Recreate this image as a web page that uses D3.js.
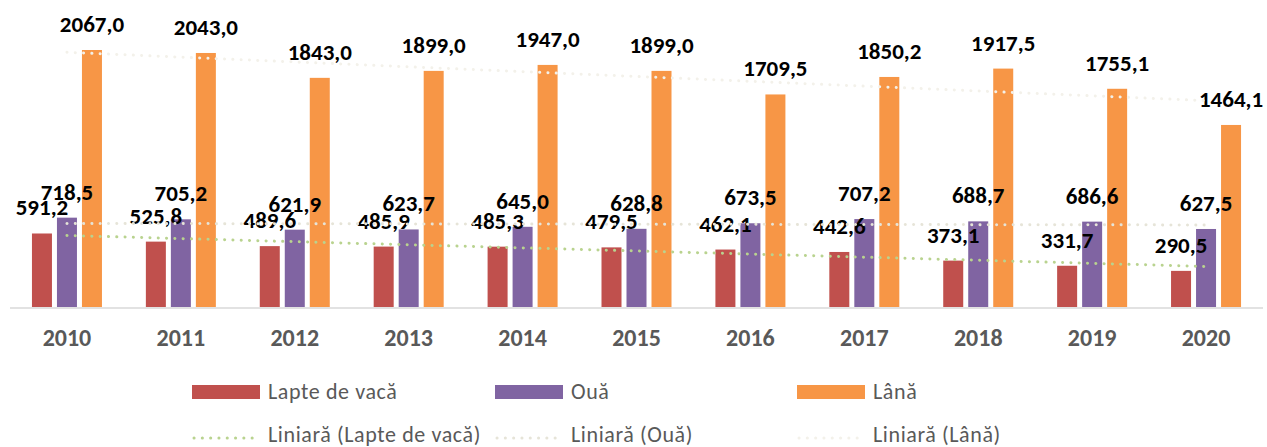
<!DOCTYPE html>
<html>
<head>
<meta charset="utf-8">
<script src="https://cdn.jsdelivr.net/npm/d3@7"></script>
<style>
  body { margin: 0; background: #fff; }
  text { font-family: Carlito, Lato, "Liberation Sans", sans-serif; }
</style>
</head>
<body>
<div id="chart"></div>
<script>
const years = ["2010", "2011", "2012", "2013", "2014", "2015", "2016", "2017", "2018", "2019", "2020"];
const lapte = [591.2, 525.8, 489.6, 485.9, 485.3, 479.5, 462.1, 442.6, 373.1, 331.7, 290.5];
const oua = [718.5, 705.2, 621.9, 623.7, 645.0, 628.8, 673.5, 707.2, 688.7, 686.6, 627.5];
const lana = [2067.0, 2043.0, 1843.0, 1899.0, 1947.0, 1899.0, 1709.5, 1850.2, 1917.5, 1755.1, 1464.1];

const seriesNames = ["Lapte de vacă", "Ouă", "Lână"];
const seriesValues = [lapte, oua, lana];
const barColors = ["#C0504D", "#8064A2", "#F79646"];
const trendColors = ["#B9D38F", "#E6E4D8", "#F3F1EA"];

const width = 1267, height = 447;
const baseY = 307;

const svg = d3.select("#chart").append("svg")
    .attr("width", width)
    .attr("height", height);

// scales
const x0 = d3.scaleBand().domain(years).range([10, 1263]);
const x1 = d3.scaleBand().domain(seriesNames).range([-35, 35]).paddingInner(0.2);
const y = d3.scaleLinear().domain([0, 2067]).range([baseY, 50]);

const fmt = d3.formatLocale({ decimal: ",", thousands: "", grouping: [3], currency: ["", ""] }).format(".1f");

// linear trend (least squares) for each series
function trend(vals) {
  const n = vals.length;
  const mx = (n - 1) / 2;
  const my = d3.mean(vals);
  let num = 0, den = 0;
  vals.forEach((v, i) => { num += (i - mx) * (v - my); den += (i - mx) * (i - mx); });
  const b = num / den;
  return vals.map((v, i) => my + b * (i - mx));
}

const cx = d => x0(d) + x0.bandwidth() / 2;

// bars
seriesNames.forEach((name, s) => {
  svg.append("g").selectAll("rect")
    .data(seriesValues[s])
    .enter().append("rect")
    .attr("x", (d, i) => cx(years[i]) + x1(name))
    .attr("y", d => y(d))
    .attr("width", x1.bandwidth())
    .attr("height", d => baseY - y(d))
    .attr("fill", barColors[s]);
});

// axis line + year labels
svg.append("line")
  .attr("x1", 10).attr("x2", 1263)
  .attr("y1", baseY + 1).attr("y2", baseY + 1)
  .attr("stroke", "#D9D9D9").attr("stroke-width", 1.5);

svg.append("g").selectAll("text")
  .data(years)
  .enter().append("text")
  .attr("x", d => cx(d))
  .attr("y", 346)
  .attr("text-anchor", "middle")
  .attr("font-size", 24)
  .attr("font-weight", "bold")
  .attr("fill", "#595959")
  .text(d => d);

// data labels
seriesNames.forEach((name, s) => {
  svg.append("g").selectAll("text")
    .data(seriesValues[s])
    .enter().append("text")
    .attr("x", (d, i) => cx(years[i]) + x1(name) + x1.bandwidth() / 2)
    .attr("y", d => y(d) - 18)
    .attr("text-anchor", "middle")
    .attr("font-size", 23)
    .attr("font-weight", "bold")
    .attr("fill", "#000")
    .text(d => fmt(d));
});

// trend lines (drawn on top)
const line = d3.line().x((d, i) => cx(years[i])).y(d => y(d));
[1, 2, 0].forEach(s => {
  svg.append("path")
    .datum(trend(seriesValues[s]))
    .attr("d", line)
    .attr("fill", "none")
    .attr("stroke", trendColors[s])
    .attr("stroke-width", 3)
    .attr("stroke-linecap", "round")
    .attr("stroke-dasharray", "0.1 8.2");
});

// legend
const legX = [192, 495, 797];
const leg = svg.append("g");
seriesNames.forEach((name, s) => {
  leg.append("rect")
    .attr("x", legX[s]).attr("y", 385)
    .attr("width", 68).attr("height", 14)
    .attr("fill", barColors[s]);
  leg.append("text")
    .attr("x", legX[s] + 76).attr("y", 399)
    .attr("font-size", 22).attr("letter-spacing", 0.6).attr("fill", "#595959")
    .text(name);
  leg.append("line")
    .attr("x1", legX[s] + 2).attr("x2", legX[s] + 68)
    .attr("y1", 438).attr("y2", 438)
    .attr("stroke", trendColors[s])
    .attr("stroke-width", 3)
    .attr("stroke-linecap", "round")
    .attr("stroke-dasharray", "0.1 8.2");
  leg.append("text")
    .attr("x", legX[s] + 76).attr("y", 442)
    .attr("font-size", 22).attr("letter-spacing", 0.6).attr("fill", "#595959")
    .text("Liniară (" + name + ")");
});
</script>
</body>
</html>
